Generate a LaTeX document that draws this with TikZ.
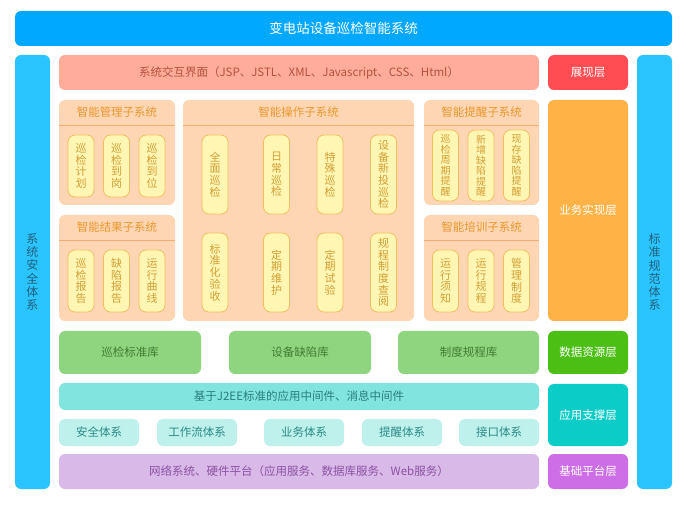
\documentclass[tikz,border=0pt]{standalone}
\usepackage{fontspec}
\setmainfont{Noto Sans CJK SC}
\definecolor{topblue}{HTML}{00A8FF}
\definecolor{sideblue}{HTML}{2AC4FF}
\definecolor{sidetext}{HTML}{23607A}
\definecolor{uisalmon}{HTML}{FFAD9A}
\definecolor{uitext}{HTML}{B5513F}
\definecolor{layred}{HTML}{FF4D53}
\definecolor{peach}{HTML}{FFD6B3}
\definecolor{hdrtext}{HTML}{E8982E}
\definecolor{hdrline}{HTML}{F2AE6E}
\definecolor{pillfill}{HTML}{FFF6B4}
\definecolor{pilldraw}{HTML}{F0BE5E}
\definecolor{pilltext}{HTML}{D39F36}
\definecolor{layorange}{HTML}{FFB347}
\definecolor{dbgreen}{HTML}{8FD47E}
\definecolor{dbtext}{HTML}{3F7D33}
\definecolor{laygreen}{HTML}{4CBF14}
\definecolor{midcyan}{HTML}{82E4DF}
\definecolor{midtext}{HTML}{2A7E7B}
\definecolor{smallcyan}{HTML}{BEF0EC}
\definecolor{smalltext}{HTML}{2C8A86}
\definecolor{laycyan}{HTML}{0CCCC8}
\definecolor{basepurple}{HTML}{D9B9E7}
\definecolor{basetext}{HTML}{8D52A3}
\definecolor{laypurple}{HTML}{CD6EE6}
\begin{document}
\begin{tikzpicture}[x=1pt,y=-1pt,
  blk/.style={rounded corners=6pt, inner sep=0pt, outer sep=0pt, align=center, anchor=center},
  sz/.style 2 args={minimum width=#1pt, minimum height=#2pt},
  lbl/.style={font=\fontsize{11.5}{13}\selectfont},
  layer/.style={blk, text=white, font=\fontsize{11.5}{13}\selectfont},
  side/.style={blk, fill=sideblue, text=sidetext, font=\fontsize{12}{13.2}\selectfont},
  subsys/.style={blk, fill=peach},
  hdr/.style={text=hdrtext, font=\fontsize{11.5}{13}\selectfont, inner sep=0pt},
  hline/.style={draw=hdrline, line width=1.1pt},
  pill/.style={blk, rounded corners=7pt, fill=pillfill, draw=pilldraw, line width=0.8pt, text=pilltext, font=\fontsize{11}{11.7}\selectfont},
  tightpill/.style={pill, font=\fontsize{10}{10.5}\selectfont},
  db/.style={blk, fill=dbgreen, text=dbtext, lbl},
  small/.style={blk, fill=smallcyan, text=smalltext, lbl}
]
\useasboundingbox[fill=white] (0,0) rectangle (689,513);

% top title
\node[blk, fill=topblue, text=white, sz={657}{35}, font=\fontsize{13.5}{15}\selectfont] (title) at (343.5,28.5) {变电站设备巡检智能系统};

% side bars
\node[side, sz={35}{434}] (security) at (32.5,272) {系\\统\\安\\全\\体\\系};
\node[side, sz={35}{434}] (standard) at (654.5,272) {标\\准\\规\\范\\体\\系};

% presentation layer
\node[blk, fill=uisalmon, text=uitext, lbl, sz={480}{35}] (ui) at (299,72.5) {系统交互界面（JSP、JSTL、XML、Javascript、CSS、Html）};
\node[layer, fill=layred, sz={80}{35}] (present) at (588,72.5) {展现层};

% business layer: subsystems
\node[subsys, sz={116}{105}] (mgmt) at (117,152.5) {};
\node[subsys, sz={116}{106}] (result) at (117,268) {};
\node[subsys, sz={231}{221}] (oper) at (298.5,210.5) {};
\node[subsys, sz={115}{105}] (remind) at (481.5,152.5) {};
\node[subsys, sz={115}{106}] (train) at (481.5,268) {};
\node[layer, fill=layorange, sz={80}{221}] (business) at (588,210.5) {业务实现层};

\foreach \b/\t in {mgmt/智能管理子系统, result/智能结果子系统, oper/智能操作子系统, remind/智能提醒子系统, train/智能培训子系统}{
  \node[hdr] (\b-title) at ([yshift=-12.5pt]\b.north) {\t};
  \draw[hline] ([yshift=-25.5pt]\b.north west) -- ([yshift=-25.5pt]\b.north east);
}

% management pills
\node[pill, sz={26}{62}] (m1) at (81,166) {巡\\检\\计\\划};
\node[pill, sz={26}{62}] (m2) at (116.5,166) {巡\\检\\到\\岗};
\node[pill, sz={26}{62}] (m3) at (152,166) {巡\\检\\到\\位};
% result pills
\node[pill, sz={26}{62}] (r1) at (81,281) {巡\\检\\报\\告};
\node[pill, sz={26}{62}] (r2) at (116.5,281) {缺\\陷\\报\\告};
\node[pill, sz={26}{62}] (r3) at (152,281) {运\\行\\曲\\线};
% operation pills
\node[pill, sz={26}{79}] (o1) at (215,174.5) {全\\面\\巡\\检};
\node[pill, sz={26}{79}] (o2) at (276.5,174.5) {日\\常\\巡\\检};
\node[pill, sz={26}{79}] (o3) at (330,174.5) {特\\殊\\巡\\检};
\node[pill, sz={26}{79}] (o4) at (383.5,174.5) {设\\备\\新\\投\\巡\\检};
\node[pill, sz={26}{79}] (o5) at (215,272.5) {标\\准\\化\\验\\收};
\node[pill, sz={26}{79}] (o6) at (276.5,272.5) {定\\期\\维\\护};
\node[pill, sz={26}{79}] (o7) at (330,272.5) {定\\期\\试\\验};
\node[pill, sz={26}{79}] (o8) at (383.5,272.5) {规\\程\\制\\度\\查\\阅};
% remind pills
\node[tightpill, sz={26}{71}] (n1) at (445.5,165.5) {巡\\检\\周\\期\\提\\醒};
\node[tightpill, sz={26}{71}] (n2) at (481,165.5) {新\\增\\缺\\陷\\提\\醒};
\node[tightpill, sz={26}{71}] (n3) at (516.5,165.5) {现\\存\\缺\\陷\\提\\醒};
% training pills
\node[pill, sz={26}{62}] (t1) at (445.5,281) {运\\行\\须\\知};
\node[pill, sz={26}{62}] (t2) at (481,281) {运\\行\\规\\程};
\node[pill, sz={26}{62}] (t3) at (516.5,281) {管\\理\\制\\度};

% data layer
\node[db, sz={142}{43}] (db1) at (130,352.5) {巡检标准库};
\node[db, sz={142}{43}] (db2) at (300,352.5) {设备缺陷库};
\node[db, sz={141}{43}] (db3) at (468.5,352.5) {制度规程库};
\node[layer, fill=laygreen, sz={80}{43}] (data) at (588,352.5) {数据资源层};

% application support layer
\node[blk, fill=midcyan, text=midtext, lbl, sz={480}{27}] (mid) at (299,396.5) {基于J2EE标准的应用中间件、消息中间件};
\node[small, sz={80}{27}] (s1) at (99,432.5) {安全体系};
\node[small, sz={80}{27}] (s2) at (197,432.5) {工作流体系};
\node[small, sz={80}{27}] (s3) at (304,432.5) {业务体系};
\node[small, sz={80}{27}] (s4) at (402,432.5) {提醒体系};
\node[small, sz={80}{27}] (s5) at (499,432.5) {接口体系};
\node[layer, fill=laycyan, sz={80}{62}] (support) at (588,415) {应用支撑层};

% base platform layer
\node[blk, fill=basepurple, text=basetext, lbl, sz={480}{35}] (base) at (299,471.5) {网络系统、硬件平台（应用服务、数据库服务、Web服务）};
\node[layer, fill=laypurple, sz={80}{35}] (platform) at (588,471.5) {基础平台层};
\end{tikzpicture}
\end{document}
